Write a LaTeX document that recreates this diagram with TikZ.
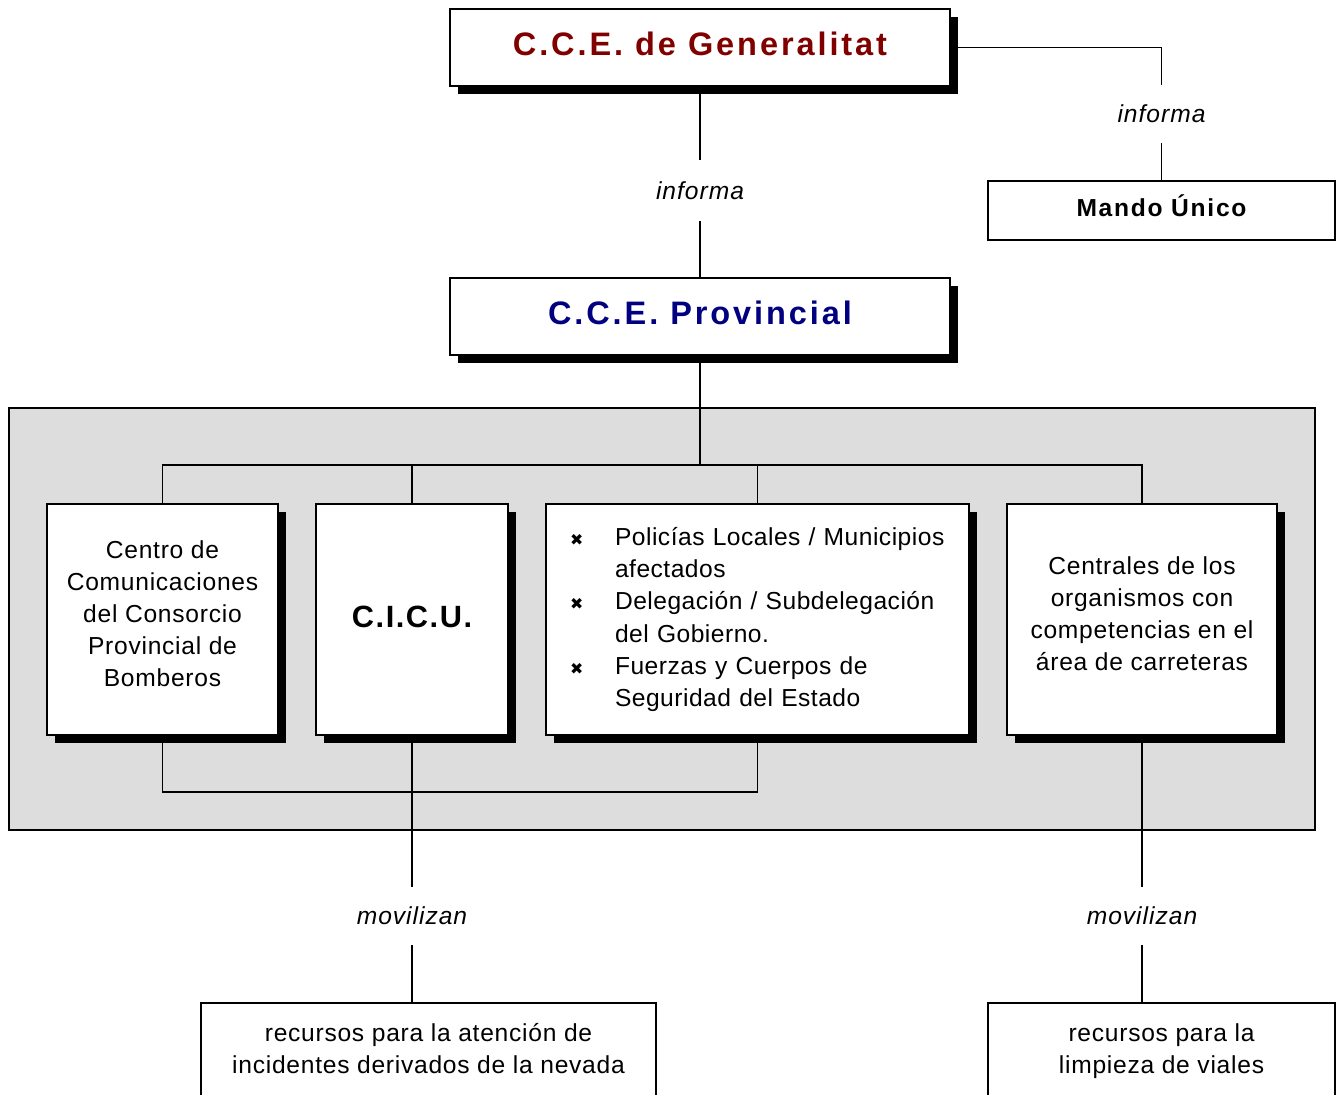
\documentclass[tikz,border=0pt]{standalone}
\usepackage{fontspec}
\setmainfont{Liberation Sans}
\newfontfamily\symfont{DejaVu Sans}
\usetikzlibrary{shadows}
\definecolor{genred}{RGB}{128,0,0}
\definecolor{provblue}{RGB}{0,0,128}
\definecolor{bggray}{RGB}{221,221,221}
\newcommand\bul[1]{\mbox{\makebox[0.9cm][l]{{\symfont\fontsize{9pt}{9pt}\selectfont ✖}}#1}}
\newcommand\ind[1]{\mbox{\hspace*{0.9cm}#1}}
\newcommand\lines[2]{\raisebox{#1}[\height][\depth]{\begin{tabular}{@{}c@{}}#2\end{tabular}}}
\begin{document}
\begin{tikzpicture}[x=0.02cm,y=-0.02cm,
  box/.style={draw=black,line width=0.8pt,fill=white,inner sep=0pt,align=center},
  shbox/.style={box,drop shadow={shadow xshift=0.16cm,shadow yshift=-0.16cm,opacity=1,fill=black}},
  body/.style={font=\fontsize{14pt}{18.2pt}\selectfont\addfontfeatures{LetterSpace=3}},
  raised/.style={align=none},
  title/.style={font=\fontsize{18.5pt}{22pt}\selectfont\bfseries\addfontfeatures{LetterSpace=9},text height=0.5cm,text depth=0.16cm},
  lab/.style={inner sep=0pt,minimum width=3cm,font=\fontsize{14pt}{18.1pt}\selectfont\itshape\addfontfeatures{LetterSpace=4}},
  conn/.style={line width=1pt}]
\useasboundingbox (0,0) rectangle (1336,1095);
\clip (0,0) rectangle (1336,1095);
% grey panel
\fill[bggray,draw=black,line width=0.8pt] (9,408) rectangle (1315,830);
% boxes
\node[shbox,title,minimum width=10cm,minimum height=1.54cm,text=genred] (gen) at (700,47.5) {C.C.E. de Generalitat};
\node[shbox,title,minimum width=10cm,minimum height=1.54cm,text=provblue] (prov) at (700,316.5) {C.C.E. Provincial};
\node[box,minimum width=6.94cm,minimum height=1.18cm,text height=0.4cm,text depth=0.16cm,font=\fontsize{14pt}{18.1pt}\selectfont\bfseries\addfontfeatures{LetterSpace=7}] (mando) at (1161.5,210.5) {Mando Único};
\node[shbox,body,raised,minimum width=4.62cm,minimum height=4.62cm] (b1) at (162.5,619.5) {\lines{0.06cm}{Centro de\\Comunicaciones\\del Consorcio\\Provincial de\\Bomberos}};
\node[shbox,minimum width=3.84cm,minimum height=4.62cm,text height=0.48cm,text depth=0.16cm,font=\fontsize{17.5pt}{21pt}\selectfont\bfseries\addfontfeatures{LetterSpace=5}] (b2) at (412,619.5) {C.I.C.U.};
\node[shbox,minimum width=8.46cm,minimum height=4.62cm,align=left,inner xsep=0.48cm,text width=7.5cm,font=\fontsize{14pt}{18.3pt}\selectfont\addfontfeatures{LetterSpace=2}] (b3) at (757.5,619.5) {\bul{Policías Locales / Municipios}\\\ind{afectados}\\\bul{Delegación / Subdelegación}\\\ind{del Gobierno.}\\\bul{Fuerzas y Cuerpos de}\\\ind{Seguridad del Estado}};
\node[shbox,body,raised,minimum width=5.4cm,minimum height=4.62cm] (b4) at (1142,619.5) {\lines{0.06cm}{Centrales de los\\organismos con\\competencias en el\\área de carreteras}};
\node[box,body,raised,minimum width=9.1cm,minimum height=1.92cm] (r1) at (428.5,1051) {\lines{0cm}{recursos para la atención de\\incidentes derivados de la nevada}};
\node[box,body,raised,minimum width=6.94cm,minimum height=1.92cm] (r2) at (1161.5,1051) {\lines{0cm}{recursos para la\\limpieza de viales}};
% labels
\node[lab,minimum height=1.16cm] (l1) at (1161.5,114) {informa};
\node[lab,minimum height=1.22cm] (l2) at (700,190.5) {informa};
\node[lab,minimum height=1.16cm] (l3) at (412,916) {movilizan};
\node[lab,minimum height=1.16cm] (l4) at (1142,916) {movilizan};
\coordinate (bus) at (700,465);
\coordinate (bot) at (700,792);
% connectors
\draw[conn] (gen.east) -| (l1.north);
\draw[conn] (l1.south) -- (mando.north);
\draw[conn] (gen.south) -- (l2.north);
\draw[conn] (l2.south) -- (prov.north);
\draw[conn] (prov.south) -- (bus);
\draw[conn] (b1.north) |- (b4.north |- bus) -- (b4.north);
\draw[conn] (b2.north) -- (b2.north |- bus);
\draw[conn] (b3.north) -- (b3.north |- bus);
\draw[conn] (b1.south) |- (b3.south |- bot) -- (b3.south);
\draw[conn] (b2.south) -- (l3.north);
\draw[conn] (l3.south) -- (l3.south |- r1.north);
\draw[conn] (b4.south) -- (l4.north);
\draw[conn] (l4.south) -- (l4.south |- r2.north);
\end{tikzpicture}
\end{document}
